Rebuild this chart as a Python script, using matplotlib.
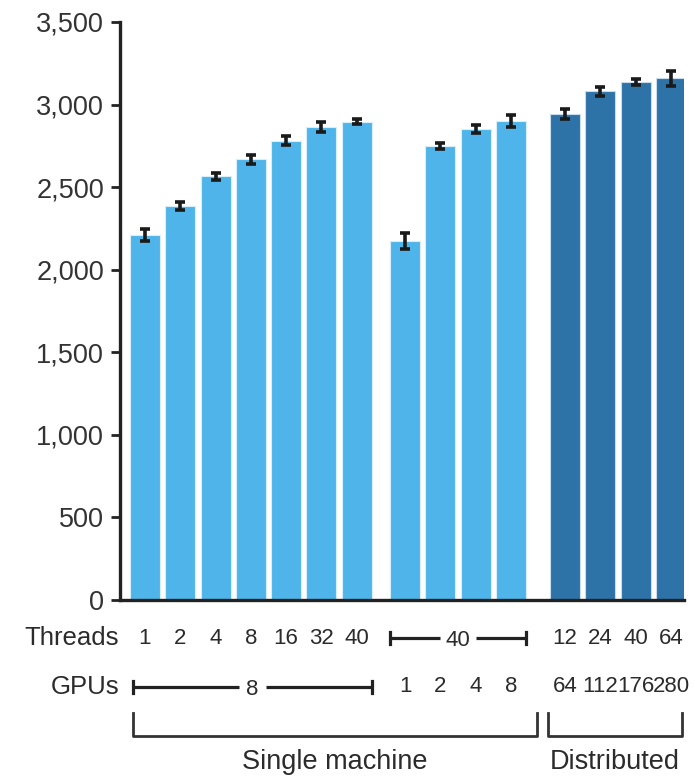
import matplotlib
matplotlib.use("Agg")
import matplotlib.pyplot as plt
import matplotlib.transforms as mtransforms
import numpy as np

# ---- data ----
single_threads_labels = ["1", "2", "4", "8", "16", "32", "40"]
single_threads_values = [2210, 2385, 2565, 2668, 2781, 2862, 2896]
single_threads_err = [38, 24, 20, 26, 26, 30, 16]

single_gpu_labels = ["1", "2", "4", "8"]
single_gpu_values = [2174, 2748, 2852, 2900]
single_gpu_err = [48, 20, 26, 34]

dist_threads_labels = ["12", "24", "40", "64"]
dist_gpu_labels = ["64", "112", "176", "280"]
dist_values = [2943, 3080, 3137, 3160]
dist_err = [30, 28, 20, 45]

yticks = [0, 500, 1000, 1500, 2000, 2500, 3000, 3500]
ytick_labels = ["0", "500", "1,000", "1,500", "2,000", "2,500", "3,000", "3,500"]

light = "#4FB4E9"
dark = "#2E73A8"
ink = "#222222"
txt = "#2b2b2b"

W, H = 695, 780
fig = plt.figure(figsize=(W / 100, H / 100), dpi=100)
ax = fig.add_axes([120 / W, 180 / H, 564 / W, 578 / H])

g1 = np.arange(len(single_threads_values)) * 1.0
g2 = 7.37 + np.arange(len(single_gpu_values))
g3 = 11.9 + np.arange(len(dist_values))
bw = 0.85

ekw = dict(ecolor="#1a1a1a", elinewidth=2.6, capsize=3.8, capthick=2.6)
ax.bar(g1, single_threads_values, bw, color=light, edgecolor="#d8eefa", linewidth=0.8,
       yerr=single_threads_err, error_kw=ekw, zorder=2)
ax.bar(g2, single_gpu_values, bw, color=light, edgecolor="#d8eefa", linewidth=0.8,
       yerr=single_gpu_err, error_kw=ekw, zorder=2)
ax.bar(g3, dist_values, bw, color=dark, edgecolor="#c9dced", linewidth=0.8,
       yerr=dist_err, error_kw=ekw, zorder=2)

ax.set_xlim(-0.708, 15.27)
ax.set_ylim(0, 3500)
ax.set_yticks(yticks)
ax.set_yticklabels(ytick_labels, fontfamily="Liberation Sans", fontsize=19.5, color="#333333")
ax.tick_params(axis="y", length=6.5, width=2, color=ink, pad=5)
ax.set_xticks([])
for s in ["top", "right"]:
    ax.spines[s].set_visible(False)
ax.spines["left"].set_linewidth(2.4)
ax.spines["left"].set_color(ink)
ax.spines["bottom"].set_linewidth(2.4)
ax.spines["bottom"].set_color(ink)

trans = mtransforms.blended_transform_factory(ax.transData, fig.transFigure)

def fy(py):
    return 1 - py / H

lab_font = dict(family="Liberation Sans", color=txt)
y_thr = fy(638)
y_gpu = fy(687)
num_fs = 16

# Row labels
fig.text(119 / W, y_thr, "Threads", ha="right", va="center", fontsize=18.5, **lab_font)
fig.text(119 / W, y_gpu, "GPUs", ha="right", va="center", fontsize=18.5, **lab_font)

# Threads row
for x, t in zip(g1, single_threads_labels):
    ax.text(x, y_thr, t, transform=trans, ha="center", va="center", fontsize=num_fs, **lab_font)
for x, t in zip(g3, dist_threads_labels):
    ax.text(x, y_thr, t, transform=trans, ha="center", va="center", fontsize=num_fs, **lab_font)
# GPUs row
for x, t in zip(g2, single_gpu_labels):
    ax.text(x, y_gpu, t, transform=trans, ha="center", va="center", fontsize=num_fs, **lab_font)
for x, t in zip(g3, dist_gpu_labels):
    ax.text(x, y_gpu, t, transform=trans, ha="center", va="center", fontsize=num_fs, **lab_font)

def span(x0, x1, y, label, gap):
    mid = (x0 + x1) / 2
    tick = 0.0077
    ax.plot([x0, mid - gap], [y, y], transform=trans, clip_on=False, color=ink, lw=2.3,
            solid_capstyle="butt")
    ax.plot([mid + gap, x1], [y, y], transform=trans, clip_on=False, color=ink, lw=2.3,
            solid_capstyle="butt")
    for xe in (x0, x1):
        ax.plot([xe, xe], [y - tick, y + tick], transform=trans, clip_on=False, color=ink, lw=2.3)
    ax.text(mid, y - 0.003, label, transform=trans, ha="center", va="center", fontsize=num_fs, **lab_font)

span(g2[0] - bw / 2, g2[-1] + bw / 2, y_thr, "40", 0.5)
span(g1[0] - bw / 2 + 0.08, g1[-1] + bw / 2, y_gpu, "8", 0.38)

# Lower group brackets
yb = fy(736)
yt = fy(713)
def bracket(x0, x1, label):
    ax.plot([x0, x0, x1, x1], [yt, yb, yb, yt], transform=trans, clip_on=False,
            color="#333333", lw=2.0)
    ax.text((x0 + x1) / 2, fy(762), label, transform=trans, ha="center", va="center",
            fontsize=19.5, **lab_font)

bracket(-0.34, 11.1, "Single machine")
bracket(11.42, 15.2, "Distributed")

fig.savefig("out.png", dpi=100)
